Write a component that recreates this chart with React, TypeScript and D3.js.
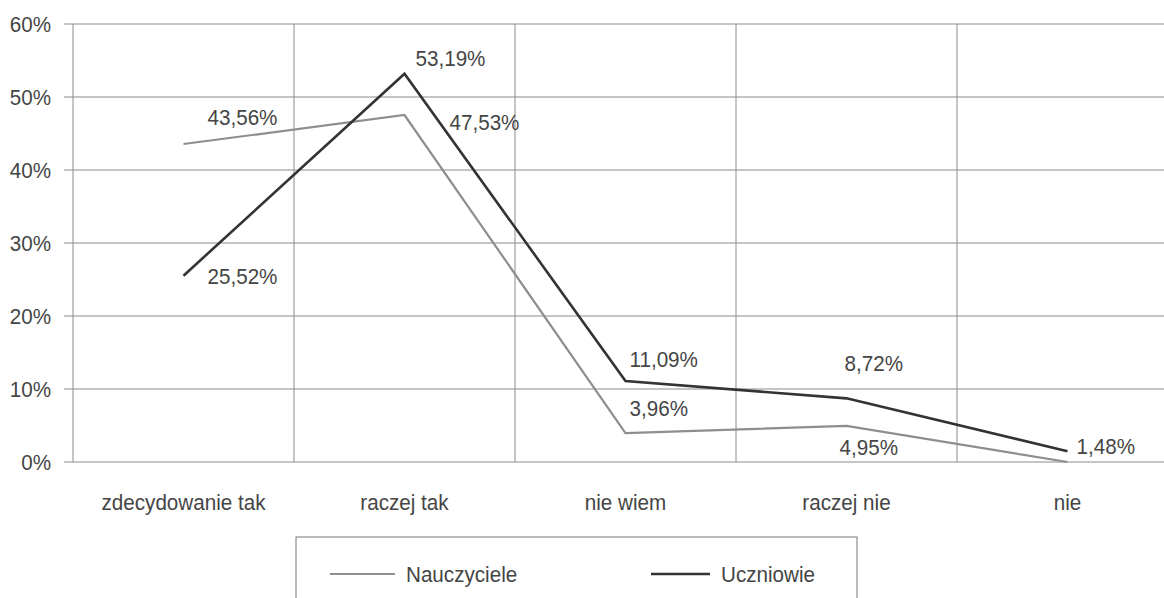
import React, { useRef, useEffect } from "react";
import * as d3 from "d3";

const categories = ["zdecydowanie tak", "raczej tak", "nie wiem", "raczej nie", "nie"];
const nauczyciele = [43.56, 47.53, 3.96, 4.95, 0];
const uczniowie = [25.52, 53.19, 11.09, 8.72, 1.48];
const yTicks = [0, 10, 20, 30, 40, 50, 60];
const seriesNames = ["Nauczyciele", "Uczniowie"];

const fmt = (v: number) => v.toFixed(2).replace(".", ",") + "%";

const App = () => {
  const svgRef = useRef<SVGSVGElement>(null);

  useEffect(() => {
    const width = 1164;
    const height = 598;
    const sx = 0.96; // slightly condensed like the scan
    const textColor = "#454545";
    const gridColor = "#8c8c8c";
    const colors = { n: "#8e8e8e", u: "#333333" };

    const svg = d3.select(svgRef.current).attr("width", width).attr("height", height);
    svg.selectAll("*").remove();

    const x = d3.scaleBand().domain(categories).range([73, 1178]);
    const y = d3.scaleLinear().domain([0, 60]).range([462, 24]);
    const cx = (c: string) => (x(c) as number) + x.bandwidth() / 2;

    const addText = (g: any, tx: number, ty: number, str: string, anchor = "start") =>
      g
        .append("text")
        .attr("transform", `translate(${tx},${ty}) scale(${sx},1)`)
        .attr("text-anchor", anchor)
        .attr("fill", textColor)
        .style("font-family", "'Liberation Sans', Arial, sans-serif")
        .style("font-size", "21.5px")
        .text(str);

    // horizontal grid
    svg
      .selectAll("line.h")
      .data(yTicks)
      .join("line")
      .attr("class", "h")
      .attr("x1", 64)
      .attr("x2", width)
      .attr("y1", (d) => y(d))
      .attr("y2", (d) => y(d))
      .attr("stroke", gridColor)
      .attr("stroke-width", 1.2);

    // vertical grid (band boundaries)
    svg
      .selectAll("line.v")
      .data(categories)
      .join("line")
      .attr("class", "v")
      .attr("x1", (d) => x(d) as number)
      .attr("x2", (d) => x(d) as number)
      .attr("y1", y(60))
      .attr("y2", y(0))
      .attr("stroke", gridColor)
      .attr("stroke-width", 1);

    // y labels
    yTicks.forEach((t) => addText(svg, 51, y(t) + 8, t + "%", "end"));

    // x labels
    categories.forEach((c) => addText(svg, cx(c), 510, c, "middle"));

    const line = d3
      .line<number>()
      .x((d, i) => cx(categories[i]))
      .y((d) => y(d));

    svg
      .append("path")
      .datum(nauczyciele)
      .attr("d", line)
      .attr("fill", "none")
      .attr("stroke", colors.n)
      .attr("stroke-width", 2.2);

    svg
      .append("path")
      .datum(uczniowie)
      .attr("d", line)
      .attr("fill", "none")
      .attr("stroke", colors.u)
      .attr("stroke-width", 2.6);

    // value labels: offsets (left edge, baseline) relative to each point
    const nOff = [
      [24, -19],
      [45, 15],
      [4, -17],
      [-7, 29],
      [0, 0],
    ];
    const uOff = [
      [24, 8],
      [11, -8],
      [4, -14],
      [-2, -27],
      [9, 3],
    ];
    nauczyciele.forEach((v, i) => {
      if (i === 4) return;
      addText(svg, cx(categories[i]) + nOff[i][0], y(v) + nOff[i][1], fmt(v));
    });
    uczniowie.forEach((v, i) => {
      addText(svg, cx(categories[i]) + uOff[i][0], y(v) + uOff[i][1], fmt(v));
    });

    // legend
    const lg = svg.append("g");
    lg.append("rect")
      .attr("x", 296)
      .attr("y", 537)
      .attr("width", 561)
      .attr("height", 80)
      .attr("fill", "none")
      .attr("stroke", "#777")
      .attr("stroke-width", 1);
    const legendItems = [
      { name: seriesNames[0], color: colors.n, w: 2, x0: 330, x1: 395 },
      { name: seriesNames[1], color: colors.u, w: 2.6, x0: 651, x1: 710 },
    ];
    legendItems.forEach((it) => {
      lg.append("line")
        .attr("x1", it.x0)
        .attr("x2", it.x1)
        .attr("y1", 574)
        .attr("y2", 574)
        .attr("stroke", it.color)
        .attr("stroke-width", it.w);
      addText(lg, it.x1 + 11, 582, it.name);
    });
  }, []);

  return <svg ref={svgRef} style={{ position: "absolute", left: 0, top: 0, background: "#fff" }}></svg>;
};

export default App;
